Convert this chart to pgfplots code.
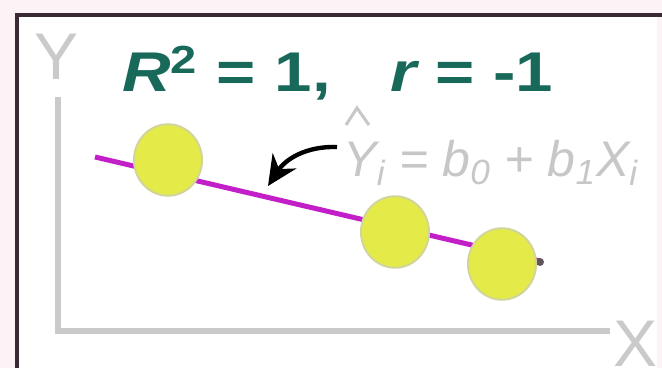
\documentclass[border=0pt]{standalone}
\usepackage{pgfplots}
\pgfplotsset{compat=1.18}
\usepackage{fontspec}
\usepackage{graphicx}
\setmainfont{Liberation Sans}
\usetikzlibrary{arrows.meta}
\definecolor{bgpink}{HTML}{FDF3F7}
\definecolor{framec}{HTML}{3A2A33}
\definecolor{axgray}{HTML}{CACACA}
\definecolor{eqgray}{HTML}{C9C6C8}
\definecolor{tealc}{RGB}{25,105,90}
\definecolor{magentac}{HTML}{C21FC8}
\definecolor{yellowc}{HTML}{E4EB48}
\definecolor{olivec}{HTML}{D2D59A}
\begin{document}
\begin{tikzpicture}
\begin{axis}[scale only axis, width=331pt, height=184pt,
  xmin=0, xmax=662, ymin=0, ymax=368, y dir=reverse,
  axis lines=none, clip=false]
\fill[bgpink] (0,0) rectangle (662,368);
\fill[white] (17,15) rectangle (657,368);
\draw[framec, line width=2pt] (17,368) -- (17,15) -- (662,15);
\draw[axgray, line width=3pt] (58,97) -- (58,331) -- (610,331);
\node[anchor=base, text=axgray, font=\fontsize{33}{36}\selectfont, inner sep=0pt] at (57,80) {Y};
\node[anchor=base, text=axgray, font=\fontsize{33}{36}\selectfont, inner sep=0pt] at (635,366) {X};
\addplot[magentac, line width=2.5pt] coordinates {(95,157) (540,261)};
\fill[framec!80] (540,262) circle[radius=2pt];
\addplot[only marks, mark=*, mark size=17pt,
  mark options={fill=yellowc, draw=olivec, line width=1pt, yscale=1.05}]
  coordinates {(168,160) (395,232) (502,264)};
\draw[black, line width=2.2pt, -{Stealth[length=15pt,width=14pt]}] (337,147) .. controls (305,146) and (285,160) .. (268,186);
\draw[eqgray, line width=1.5pt] (346,125) -- (357,108) -- (369,125);
\node[anchor=base west, inner sep=0pt, text=eqgray, font=\fontsize{25}{30}\selectfont\itshape] at (343,177)
  {Y\textsubscript{i} = b\textsubscript{0} + b\textsubscript{1}X\textsubscript{i}};
\node[anchor=base west, inner sep=0pt, text=tealc, font=\fontsize{28}{32}\selectfont\bfseries] at (122,92)
  {\scalebox{1.2}[1]{{\itshape R}\textsuperscript{2} = 1,}};
\node[anchor=base west, inner sep=0pt, text=tealc, font=\fontsize{28}{32}\selectfont\bfseries] at (390,92)
  {\scalebox{1.2}[1]{{\itshape r} = -1}};
\end{axis}
\pgfresetboundingbox
\path[use as bounding box] (current axis.south west) rectangle (current axis.north east);
\end{tikzpicture}
\end{document}
